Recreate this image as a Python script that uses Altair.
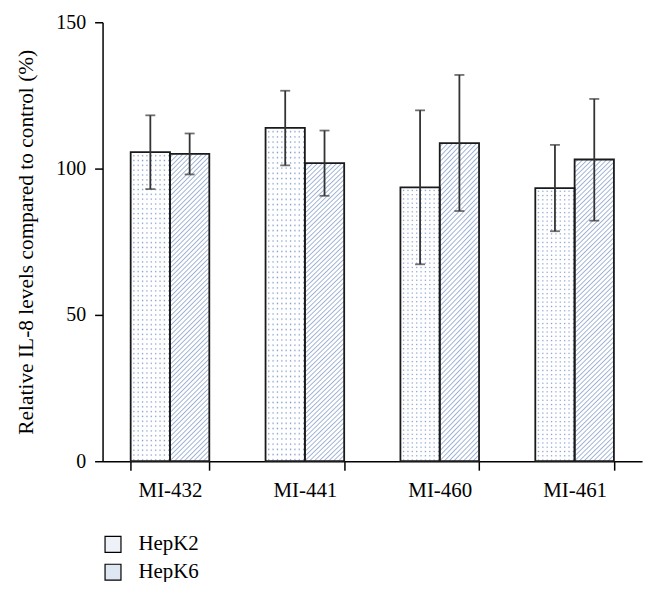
import altair as alt
import pandas as pd

categories = ["MI-432", "MI-441", "MI-460", "MI-461"]
series_names = ["HepK2", "HepK6"]
hepk2_mean = [105.6, 113.9, 93.6, 93.3]
hepk2_low = [93.0, 101.1, 67.3, 78.6]
hepk2_high = [118.2, 126.6, 119.9, 108.1]
hepk6_mean = [105.0, 101.9, 108.7, 103.1]
hepk6_low = [98.0, 90.7, 85.5, 82.2]
hepk6_high = [112.0, 113.0, 132.0, 123.8]
y_ticks = [0, 50, 100, 150]
y_title = "Relative IL-8 levels compared to control (%)"

rows = []
for i, c in enumerate(categories):
    rows.append(dict(category=c, series="HepK2", mean=hepk2_mean[i], low=hepk2_low[i], high=hepk2_high[i]))
    rows.append(dict(category=c, series="HepK6", mean=hepk6_mean[i], low=hepk6_low[i], high=hepk6_high[i]))
df = pd.DataFrame(rows)

SERIF = "Liberation Serif, Times New Roman, DejaVu Serif, serif"


def soft_stripes(n, line_color, bg, x1, y1, x2, y2):
    # smooth plateau/ramp stripes to avoid aliasing moire
    stops = []
    for p in range(n):
        stops += [
            alt.GradientStop(color=bg, offset=round(p / n, 6)),
            alt.GradientStop(color=bg, offset=round((p + 0.45) / n, 6)),
            alt.GradientStop(color=line_color, offset=round((p + 0.72) / n, 6)),
        ]
    stops.append(alt.GradientStop(color=bg, offset=1))
    return alt.LinearGradient(gradient="linear", stops=stops, x1=x1, y1=y1, x2=x2, y2=y2)


# dotted texture: vertical blue stripes masked by horizontal white stripes
dot_cols = soft_stripes(9, "#7d98c8", "#ffffff", 0, 0, 1, 0)
dot_mask = soft_stripes(64, "rgba(255,255,255,0)", "#ffffff", 0, 0, 0, 1)
# diagonal hatch (///) for HepK6
r = 39.5 / 308.0
k = (1 + r) / (1 + r * r)
hatch = soft_stripes(72, "#9db1d2", "#ffffff", 0, 0, r * k, k)

x_enc = alt.X(
    "category:N",
    sort=categories,
    scale=alt.Scale(domain=categories, paddingInner=0.417, paddingOuter=0.2085),
    axis=alt.Axis(
        title=None, labelAngle=0, labelFont=SERIF, labelFontSize=21, labelColor="black",
        labelPadding=9, tickSize=9, tickBand="extent", domainColor="black", tickColor="black",
        domainWidth=1.5, tickWidth=1.5,
    ),
)
xo_enc = alt.XOffset("series:N", scale=alt.Scale(domain=series_names, paddingInner=0, paddingOuter=0))
y_scale = alt.Scale(domain=[0, 150], nice=False)
y_axis = alt.Axis(
    values=y_ticks, title=y_title, titleFont=SERIF, titleFontSize=21.5, titleFontWeight="normal",
    titleColor="black", titlePadding=18, labelFont=SERIF, labelFontSize=20, labelColor="black",
    labelPadding=9, tickSize=8, grid=False, domainColor="black", tickColor="black",
    domainWidth=1.5, tickWidth=1.5,
)

base = alt.Chart(df).encode(x=x_enc, xOffset=xo_enc)

bars_base = base.mark_bar().encode(
    y=alt.Y("mean:Q", scale=y_scale, axis=y_axis, title=y_title),
    color=alt.Color(
        "series:N",
        scale=alt.Scale(domain=series_names, range=["#eef2f8", "#dfe7f2"]),
        legend=alt.Legend(
            title=None, orient="none", legendX=0, legendY=514, direction="vertical",
            symbolType="square", symbolSize=256, symbolStrokeColor="black", symbolStrokeWidth=1.2,
            labelFont=SERIF, labelFontSize=21, labelColor="black", labelOffset=15,
            rowPadding=6, padding=0,
        ),
    ),
)

k2_cols = base.transform_filter(alt.datum.series == "HepK2").mark_bar(fill=dot_cols).encode(
    y=alt.Y("mean:Q", scale=y_scale, title=y_title)
)
k2_mask = base.transform_filter(alt.datum.series == "HepK2").mark_bar(fill=dot_mask).encode(
    y=alt.Y("mean:Q", scale=y_scale, title=y_title)
)
k6_hatch = base.transform_filter(alt.datum.series == "HepK6").mark_bar(fill=hatch).encode(
    y=alt.Y("mean:Q", scale=y_scale, title=y_title)
)
outline = base.mark_bar(fill="white", fillOpacity=0, stroke="#1a1a1a", strokeWidth=1.8).encode(
    y=alt.Y("mean:Q", scale=y_scale, title=y_title)
)
err = base.mark_rule(color="#333333", strokeWidth=1.8).encode(
    y=alt.Y("low:Q", scale=y_scale, title=y_title), y2="high:Q"
)
cap_lo = base.mark_tick(orient="horizontal", size=10, thickness=1.8, color="#333333").encode(
    y=alt.Y("low:Q", scale=y_scale, title=y_title)
)
cap_hi = base.mark_tick(orient="horizontal", size=10, thickness=1.8, color="#333333").encode(
    y=alt.Y("high:Q", scale=y_scale, title=y_title)
)

chart = (
    alt.layer(bars_base, k2_cols, k2_mask, k6_hatch, outline, err, cap_lo, cap_hi)
    .properties(
        width=542, height=441,
        padding={"left": 95, "top": 13, "right": 10, "bottom": 120},
        autosize=alt.AutoSizeParams(type="none"),
        background="white",
    )
    .configure_view(stroke=None)
)

chart.save("out.html", embed_options={"renderer": "svg", "actions": False})
